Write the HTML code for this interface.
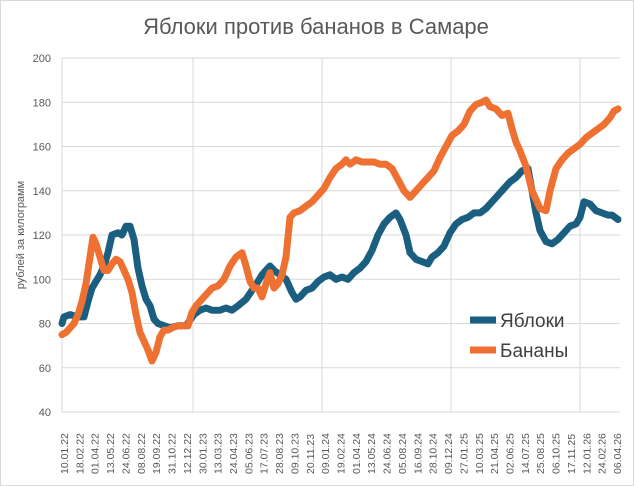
<!DOCTYPE html>
<html><head><meta charset="utf-8"><style>
body{margin:0;background:#fff}
svg{display:block;font-family:"Liberation Sans",sans-serif}
</style></head><body>
<svg id="s" width="634" height="486" viewBox="0 0 634 486">
<rect x="0.5" y="0.5" width="633" height="485" fill="#fff" stroke="#d9d9d9"/>
<text x="316" y="34" text-anchor="middle" font-size="22" fill="#595959">Яблоки против бананов в Самаре</text>
<g id="grid" stroke="#d9d9d9" stroke-width="1"></g>
<g id="yl" font-size="11" fill="#595959" text-anchor="end"></g>
<g id="xl" font-size="10.5" fill="#595959"></g>
<text transform="translate(24,235) rotate(-90)" text-anchor="middle" font-size="11" fill="#595959">рублей за килограмм</text>
<polyline id="b" fill="none" stroke="#1a5e80" stroke-width="7" stroke-linejoin="round" stroke-linecap="round"/>
<polyline id="o" fill="none" stroke="#ee7132" stroke-width="7" stroke-linejoin="round" stroke-linecap="round"/>
<line x1="470" y1="320" x2="496" y2="320" stroke="#1a5e80" stroke-width="7"/>
<text x="500" y="327" font-size="19" fill="#404040">Яблоки</text>
<line x1="470" y1="350" x2="496" y2="350" stroke="#ee7132" stroke-width="7"/>
<text x="500" y="357" font-size="19" fill="#404040">Бананы</text>
</svg>
<script>
var NS="http://www.w3.org/2000/svg";
function Y(v){return 412-(v-40)*2.2125;}
var g=document.getElementById('grid'),yl=document.getElementById('yl'),xl=document.getElementById('xl');
for(var v=40;v<=200;v+=20){var l=document.createElementNS(NS,'line');l.setAttribute('x1',62);l.setAttribute('x2',620);l.setAttribute('y1',Y(v));l.setAttribute('y2',Y(v));g.appendChild(l);
var t=document.createElementNS(NS,'text');t.setAttribute('x',51);t.setAttribute('y',Y(v)+4);t.textContent=v;yl.appendChild(t);}
[62,193,322,451,580].forEach(function(x){var l=document.createElementNS(NS,'line');l.setAttribute('x1',x);l.setAttribute('x2',x);l.setAttribute('y1',Y(200));l.setAttribute('y2',Y(40));g.appendChild(l);});
var labs="10.01.22 18.02.22 01.04.22 13.05.22 24.06.22 08.08.22 19.09.22 31.10.22 12.12.22 30.01.23 13.03.23 24.04.23 05.06.23 17.07.23 28.08.23 09.10.23 20.11.23 09.01.24 19.02.24 01.04.24 13.05.24 24.06.24 05.08.24 16.09.24 28.10.24 09.12.24 27.01.25 10.03.25 21.04.25 02.06.25 14.07.25 25.08.25 06.10.25 17.11.25 12.01.26 24.02.26 06.04.26".split(" ");
var step=(617-64)/(labs.length-1);
labs.forEach(function(s,i){var x=64+step*i+4;var t=document.createElementNS(NS,'text');t.setAttribute('transform','translate('+x+',474) rotate(-90)');t.textContent=s;xl.appendChild(t);});
var B=[62,80,64,83,70,84,78,83,84,83,88,90,92,96,100,102,104,106,108,112,112,120,118,121,122,120,126,124,130,124,134,118,138,105,142,97,146,91,150,88,154,82,158,80,164,79,170,78,178,79,186,79,194,84,200,86,206,87,212,86,220,86,226,87,232,86,238,88,246,91,252,95,258,99,262,102,266,104,270,106,274,104,280,102,286,100,292,94,296,91,300,92,306,95,312,96,318,99,324,101,330,102,336,100,342,101,348,100,354,103,360,105,366,108,372,113,378,120,384,125,390,128,396,130,400,127,406,120,410,112,416,109,422,108,428,107,432,110,438,112,444,115,450,121,456,125,462,127,468,128,474,130,480,130,486,132,492,135,498,138,504,141,510,144,516,146,522,149,528,150,532,140,536,130,540,122,546,117,552,116,558,118,564,121,570,124,576,125,580,128,584,135,590,134,596,131,602,130,608,129,612,129,618,127];
var O=[62,75,66,76,70,78,74,80,78,84,82,90,86,98,90,110,93,119,96,116,100,110,104,104,108,104,112,107,116,109,120,108,124,104,128,100,132,94,136,84,140,76,144,72,148,68,152,63,156,67,160,74,164,77,168,77,172,78,178,79,184,79,188,79,192,85,196,88,200,90,206,93,212,96,218,97,224,100,230,106,236,110,242,112,246,106,250,99,254,96,258,96,262,92,266,98,270,103,274,96,278,98,282,102,286,110,290,128,294,130,300,131,306,133,312,135,318,138,324,141,330,146,336,150,342,152,346,154,350,152,356,154,362,153,368,153,374,153,380,152,386,152,392,150,398,145,404,140,410,137,416,140,422,143,428,146,434,149,440,155,446,160,452,165,458,167,464,170,470,176,476,179,482,180,486,181,490,178,496,177,502,174,508,175,512,168,516,162,520,158,526,151,532,140,536,136,540,132,546,131,550,140,556,150,562,154,568,157,574,159,580,161,586,164,592,166,598,168,604,170,610,173,614,176,618,177];
function pts(a){var r=[];for(var i=0;i<a.length;i+=2)r.push(a[i]+','+Y(a[i+1]).toFixed(1));return r.join(' ');}
document.getElementById('b').setAttribute('points',pts(B));
document.getElementById('o').setAttribute('points',pts(O));
</script>
</body></html>
